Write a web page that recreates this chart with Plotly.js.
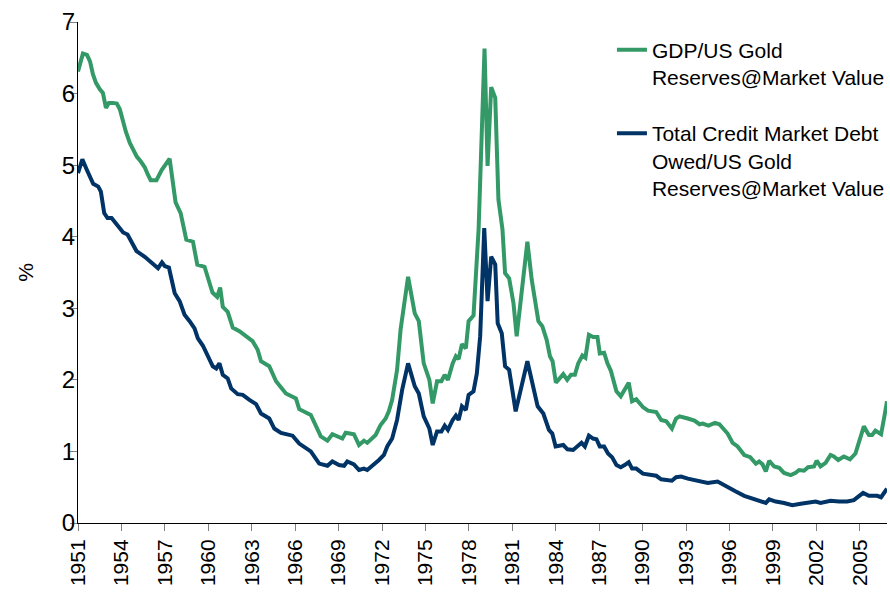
<!DOCTYPE html>
<html>
<head>
<meta charset="utf-8">
<script src="https://cdn.plot.ly/plotly-3.0.1.min.js"></script>
<style>
  html, body { margin: 0; padding: 0; background: #fff; }
  #chart { width: 890px; height: 599px; }
</style>
</head>
<body>
<div id="chart"></div>
<script>
// GDP / US Gold Reserves @ Market Value
const gdpYears = [
  1951.00,1951.34,1951.62,1951.83,1952.03,1952.24,1952.51,1952.72,1952.93,1953.13,1953.41,1953.68,1953.89,
  1954.10,1954.30,1954.58,1954.79,1955.06,1955.34,1955.61,1955.82,1956.02,1956.42,1956.78,1957.33,1957.74,
  1958.09,1958.48,1958.94,1959.24,1959.74,1960.29,1960.61,1960.82,1961.00,1961.34,1961.69,1962.15,1963.06,
  1963.41,1963.64,1964.21,1964.68,1965.36,1966.05,1966.28,1967.08,1967.77,1968.23,1968.57,1969.26,1969.49,
  1970.06,1970.41,1970.75,1970.98,1971.56,1971.90,1972.25,1972.47,1972.70,1973.04,1973.28,1973.80,1974.26,
  1974.54,1974.88,1975.11,1975.27,1975.50,1975.80,1976.10,1976.33,1976.55,1976.88,1977.10,1977.29,1977.52,
  1977.79,1977.98,1978.32,1978.67,1978.89,1979.08,1979.29,1979.54,1979.82,1980.04,1980.32,1980.50,1980.78,
  1981.08,1981.30,1982.04,1982.34,1982.80,1983.07,1983.37,1983.60,1983.78,1984.01,1984.52,1984.79,1985.05,
  1985.32,1985.55,1985.84,1986.05,1986.29,1986.58,1986.88,1987.04,1987.34,1987.57,1987.80,1988.19,1988.49,
  1988.76,1989.04,1989.27,1989.56,1990.02,1990.37,1990.94,1991.28,1991.63,1992.02,1992.31,1992.55,1993.12,
  1993.58,1993.93,1994.15,1994.55,1995.00,1995.30,1995.87,1996.22,1996.56,1997.02,1997.43,1997.82,1998.05,
  1998.28,1998.51,1998.74,1999.09,1999.43,1999.77,2000.23,2000.57,2000.81,2001.15,2001.43,2001.84,2002.02,
  2002.29,2002.64,2002.98,2003.21,2003.51,2003.90,2004.32,2004.70,2005.01,2005.28,2005.63,2005.85,2006.08,
  2006.47,2006.70,2006.88
];
const gdpValues = [
  6.31,6.56,6.54,6.45,6.27,6.15,6.06,6.01,5.80,5.87,5.87,5.86,5.78,
  5.61,5.47,5.31,5.22,5.12,5.05,4.97,4.87,4.79,4.79,4.93,5.09,4.48,
  4.33,3.96,3.93,3.61,3.58,3.22,3.16,3.29,3.02,2.95,2.73,2.68,2.54,
  2.42,2.26,2.19,1.98,1.81,1.74,1.59,1.51,1.21,1.15,1.24,1.18,1.26,
  1.24,1.09,1.15,1.12,1.23,1.37,1.46,1.56,1.72,2.14,2.70,3.44,2.93,
  2.82,2.23,2.09,2.00,1.67,1.98,1.98,2.07,2.00,2.23,2.33,2.29,2.50,
  2.44,2.82,2.90,4.10,5.50,6.63,4.99,6.09,5.94,4.52,4.10,3.49,3.42,
  3.07,2.61,3.93,3.40,2.82,2.75,2.56,2.33,2.26,1.96,2.08,2.00,2.07,
  2.07,2.23,2.34,2.31,2.63,2.60,2.60,2.37,2.38,2.23,2.13,1.84,1.77,
  1.86,1.96,1.70,1.73,1.62,1.57,1.55,1.44,1.42,1.32,1.46,1.49,1.46,
  1.43,1.38,1.39,1.36,1.40,1.38,1.25,1.12,1.07,0.95,0.92,0.83,0.86,
  0.82,0.72,0.87,0.79,0.77,0.70,0.67,0.70,0.74,0.73,0.78,0.79,0.87,
  0.79,0.84,0.95,0.93,0.88,0.93,0.89,0.97,1.16,1.35,1.23,1.23,1.29,
  1.24,1.49,1.70
];

// Total Credit Market Debt Owed / US Gold Reserves @ Market Value
const debtYears = [
  1951.00,1951.30,1951.60,1952.05,1952.40,1952.58,1952.81,1953.04,1953.32,1953.77,1954.12,1954.42,1955.04,
  1955.61,1956.18,1956.53,1956.80,1956.99,1957.28,1957.68,1958.02,1958.36,1958.71,1959.05,1959.28,1959.62,
  1960.31,1960.55,1960.77,1961.00,1961.34,1961.58,1962.03,1962.38,1962.84,1963.30,1963.64,1964.21,1964.56,
  1965.02,1965.82,1966.28,1967.08,1967.66,1968.23,1968.57,1969.03,1969.38,1969.60,1970.06,1970.41,1970.75,
  1970.98,1971.56,1971.79,1972.13,1972.36,1972.70,1973.04,1973.39,1973.80,1974.26,1974.54,1974.88,1975.11,
  1975.27,1975.50,1975.80,1976.10,1976.33,1976.55,1976.88,1977.10,1977.29,1977.52,1977.79,1977.98,1978.32,
  1978.55,1978.78,1979.06,1979.29,1979.54,1979.82,1979.99,1980.27,1980.50,1980.78,1980.96,1981.23,1982.04,
  1982.38,1982.75,1983.14,1983.53,1983.76,1983.99,1984.52,1984.81,1985.20,1985.55,1985.78,1986.01,1986.29,
  1986.58,1986.81,1987.04,1987.34,1987.61,1987.89,1988.19,1988.49,1988.76,1989.04,1989.27,1989.56,1990.02,
  1990.48,1990.94,1991.28,1991.74,1992.02,1992.31,1992.66,1993.12,1993.80,1994.50,1995.18,1995.76,1996.44,
  1997.02,1997.71,1998.16,1998.51,1998.74,1999.20,1999.77,2000.34,2000.92,2001.49,2001.95,2002.29,2002.98,
  2003.56,2004.13,2004.59,2004.94,2005.23,2005.63,2006.20,2006.47,2006.70,2006.88
];
const debtValues = [
  4.89,5.08,4.94,4.74,4.70,4.63,4.33,4.26,4.26,4.14,4.06,4.03,3.80,
  3.72,3.61,3.56,3.64,3.59,3.57,3.21,3.10,2.91,2.82,2.72,2.58,2.48,
  2.19,2.16,2.23,2.07,2.02,1.88,1.80,1.79,1.72,1.66,1.53,1.46,1.32,
  1.26,1.22,1.11,1.00,0.83,0.80,0.86,0.81,0.80,0.86,0.82,0.74,0.76,
  0.74,0.83,0.88,0.95,1.07,1.18,1.44,1.86,2.23,1.91,1.81,1.49,1.37,
  1.32,1.09,1.28,1.28,1.36,1.30,1.44,1.50,1.44,1.63,1.58,1.79,1.84,
  2.09,2.61,4.12,3.10,3.72,3.61,2.79,2.65,2.19,2.14,1.91,1.56,2.26,
  1.93,1.63,1.53,1.30,1.25,1.07,1.09,1.03,1.02,1.09,1.12,1.07,1.22,
  1.18,1.17,1.07,1.07,0.97,0.92,0.81,0.78,0.81,0.85,0.76,0.76,0.69,
  0.67,0.66,0.61,0.60,0.59,0.64,0.65,0.62,0.59,0.56,0.58,0.51,0.44,
  0.38,0.33,0.31,0.28,0.33,0.30,0.28,0.25,0.27,0.28,0.30,0.28,0.31,
  0.30,0.30,0.32,0.38,0.42,0.38,0.38,0.36,0.44,0.48
];

const tickYears = [1951,1954,1957,1960,1963,1966,1969,1972,1975,1978,1981,1984,1987,1990,1993,1996,1999,2002,2005];
const tickLabels = tickYears.map(String);

const seriesNames = [
  'GDP/US Gold<br>Reserves@Market Value',
  'Total Credit Market Debt<br>Owed/US Gold<br>Reserves@Market Value'
];

const FONT = 'Liberation Sans, Arial, sans-serif';

const traces = [
  {
    x: gdpYears, y: gdpValues, type: 'scatter', mode: 'lines',
    name: seriesNames[0], legendgroup: 'a',
    line: { color: '#339966', width: 4 }
  },
  {
    x: debtYears, y: debtValues, type: 'scatter', mode: 'lines',
    name: seriesNames[1], legendgroup: 'b',
    line: { color: '#003366', width: 4 }
  }
];

const layout = {
  width: 890, height: 599,
  margin: { l: 78, r: 0, t: 22, b: 76 },
  paper_bgcolor: '#ffffff',
  plot_bgcolor: '#ffffff',
  font: { family: FONT, color: '#000000' },
  showlegend: true,
  legend: {
    x: 0.66, xanchor: 'left', y: 0.985, yanchor: 'top',
    valign: 'top',
    font: { family: FONT, size: 21, color: '#000000' },
    bgcolor: 'rgba(0,0,0,0)',
    tracegroupgap: 26,
    itemwidth: 30
  },
  xaxis: {
    type: 'linear',
    range: [1951, 2006.88],
    tickmode: 'array',
    tickvals: tickYears,
    ticktext: tickLabels,
    tickangle: -90,
    ticks: 'outside', ticklen: 7, tickcolor: '#808080', tickwidth: 1,
    tickfont: { family: FONT, size: 21, color: '#000000' },
    showgrid: false, zeroline: false,
    showline: true, linecolor: '#000000', linewidth: 1
  },
  yaxis: {
    range: [0, 7],
    dtick: 1, tick0: 0,
    ticks: 'outside', ticklen: 7, tickcolor: '#808080', tickwidth: 1,
    tickfont: { family: FONT, size: 24, color: '#000000' },
    ticklabelstandoff: -10,
    showgrid: false, zeroline: false,
    showline: true, linecolor: '#000000', linewidth: 1,
    title: { text: '%', font: { family: FONT, size: 21, color: '#000000' }, standoff: 22 }
  }
};

Plotly.newPlot('chart', traces, layout, { displayModeBar: false, staticPlot: true });
</script>
</body>
</html>
